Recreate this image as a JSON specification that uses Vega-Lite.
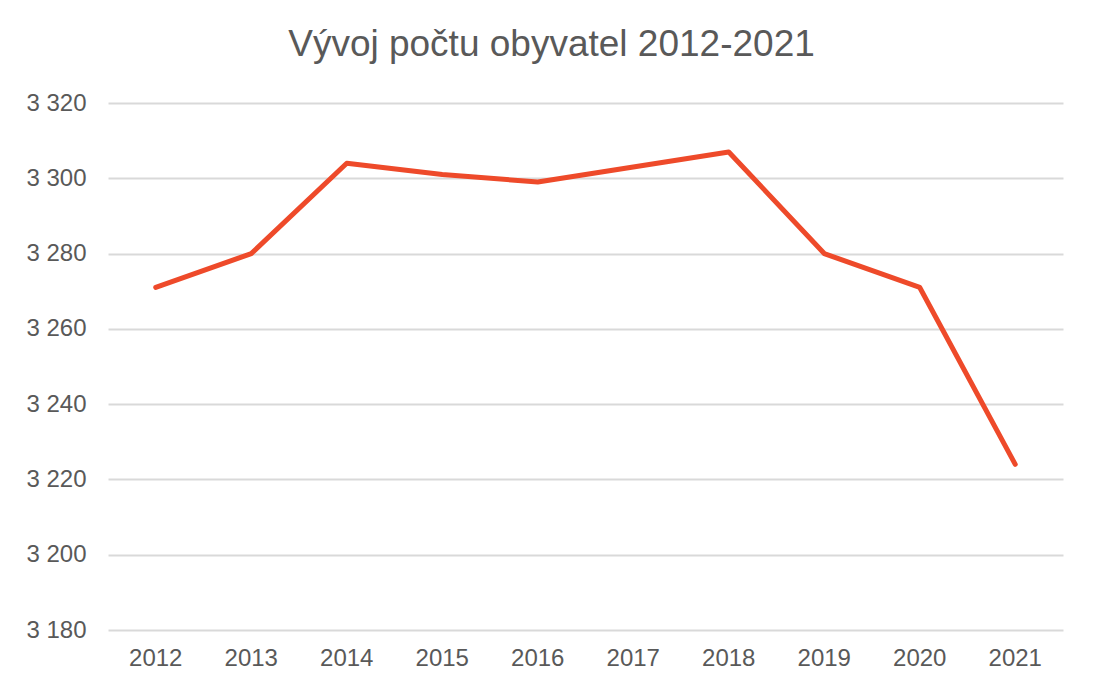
{
  "$schema": "https://vega.github.io/schema/vega-lite/v6.json",
  "autosize": "none",
  "width": 955,
  "height": 527,
  "padding": {"left": 108, "top": 103, "right": 36, "bottom": 54},
  "background": "white",
  "title": {
    "text": "Vývoj počtu obyvatel 2012-2021",
    "font": "Liberation Sans",
    "fontSize": 37,
    "fontWeight": "normal",
    "color": "#595959",
    "anchor": "middle",
    "dx": -34,
    "offset": 27
  },
  "config": {
    "view": {"stroke": null},
    "font": "Liberation Sans"
  },
  "data": {
    "values": [
      {"rok": "2012", "obyvatel": 3271},
      {"rok": "2013", "obyvatel": 3280},
      {"rok": "2014", "obyvatel": 3304},
      {"rok": "2015", "obyvatel": 3301},
      {"rok": "2016", "obyvatel": 3299},
      {"rok": "2017", "obyvatel": 3303},
      {"rok": "2018", "obyvatel": 3307},
      {"rok": "2019", "obyvatel": 3280},
      {"rok": "2020", "obyvatel": 3271},
      {"rok": "2021", "obyvatel": 3224}
    ]
  },
  "mark": {"type": "line", "color": "#EE4A2A", "strokeWidth": 5, "strokeCap": "round", "strokeJoin": "round"},
  "encoding": {
    "x": {
      "field": "rok",
      "type": "ordinal",
      "scale": {"type": "band", "paddingInner": 0, "paddingOuter": 0},
      "axis": {
        "title": null,
        "labelAngle": 0,
        "labelFont": "Liberation Sans",
        "labelFontSize": 24,
        "labelColor": "#595959",
        "labelPadding": 16,
        "domain": false,
        "ticks": false,
        "grid": false
      }
    },
    "y": {
      "field": "obyvatel",
      "type": "quantitative",
      "scale": {"domain": [3180, 3320], "nice": false, "zero": false},
      "axis": {
        "title": null,
        "values": [3180, 3200, 3220, 3240, 3260, 3280, 3300, 3320],
        "labelExpr": "replace(format(datum.value, ','), ',', ' ')",
        "labelFont": "Liberation Sans",
        "labelFontSize": 24,
        "labelColor": "#595959",
        "labelPadding": 22,
        "domain": false,
        "ticks": false,
        "grid": true,
        "gridColor": "#D9D9D9",
        "gridWidth": 2
      }
    }
  }
}
